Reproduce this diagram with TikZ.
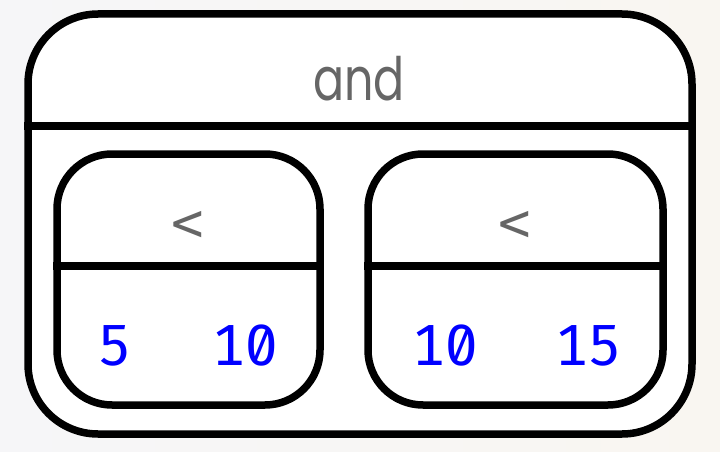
\documentclass[tikz,border=0pt]{standalone}
\usepackage{fontspec}
\newfontfamily\labfont{Poppins}
\newfontfamily\opfont{DejaVu Sans Mono}
\newfontfamily\numfont[Numbers={SlashedZero,Monospaced}]{Fira Sans}
\definecolor{bgL}{HTML}{F6F6F8}
\definecolor{bgR}{HTML}{F9F6F1}
\definecolor{labgrey}{HTML}{666666}
\definecolor{numblue}{HTML}{0000FF}
\begin{document}
\begin{tikzpicture}[x=1pt,y=-1pt,
  box/.style={draw=black, fill=white, line width=7.5pt, rounded corners=#1, inner sep=0pt},
  sep/.style={draw=black, line width=7.5pt},
  title/.style={text=labgrey, font=\labfont\fontsize{46}{46}\selectfont, inner sep=0pt, anchor=base},
  op/.style={text=labgrey, font=\opfont\fontsize{54}{54}\selectfont, inner sep=0pt},
  num/.style={text=numblue, font=\numfont\fontsize{58}{58}\selectfont, inner sep=0pt, anchor=base}]
\useasboundingbox (0,0) rectangle (720,452);
\shade[left color=bgL, right color=bgR] (0,0) rectangle (720,452);
% outer box
\node[box=70pt, minimum width=664pt, minimum height=420pt] (outer) at (360,224) {};
\coordinate (d0) at (0,126);
\draw[sep] (outer.west |- d0) -- (outer.east |- d0);
\node[title] (and) at (359,100) {\scalebox{1}[1.3]{and}};
% left inner box
\node[box=55pt, minimum width=263pt, minimum height=251pt] (lbox) at (188.5,279.5) {};
% right inner box
\node[box=55pt, minimum width=295pt, minimum height=251pt] (rbox) at (515.5,279.5) {};
\coordinate (d1) at (0,266);
\draw[sep] (lbox.west |- d1) -- (lbox.east |- d1);
\draw[sep] (rbox.west |- d1) -- (rbox.east |- d1);
\node[op] (lop) at (188,226) {<};
\node[op] (rop) at (515,226) {<};
\node[num] (a1) at (115,365) {5};
\node[num] (a2) at (245,365) {10};
\node[num] (b1) at (445,365) {10};
\node[num] (b2) at (588,365) {15};
\end{tikzpicture}
\end{document}
